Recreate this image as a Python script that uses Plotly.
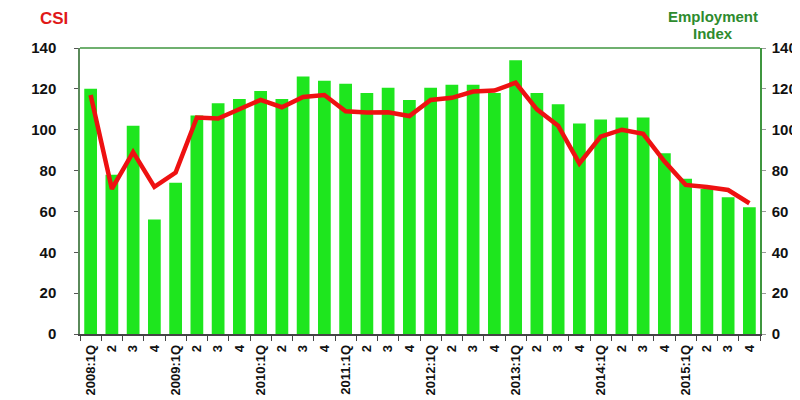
import plotly.graph_objects as go

years = ["2008", "2009", "2010", "2011", "2012", "2013", "2014", "2015"]
quarter_labels = []
for y in years:
    quarter_labels += [y + ":1Q", "2", "3", "4"]
categories = [f"{y}Q{q}" for y in years for q in range(1, 5)]

employment_index = [120, 78, 102, 56, 74, 107, 113, 115,
                    119, 115, 126, 124, 122.5, 118, 120.5, 114.5,
                    120.5, 122, 122, 118, 134, 118, 112.5, 103,
                    105, 106, 106, 88.5, 76, 71, 67, 62]
csi = [117, 71, 89, 72, 79, 106, 105.5, 110,
       114.6, 111, 116, 117, 109, 108.4, 108.5, 106.7,
       114.6, 115.6, 118.7, 119.2, 123, 110, 102, 83.5,
       96.6, 100, 98, 84.5, 73, 72, 70.5, 64]

bar_color = "#1ee61e"
line_color = "#ee1111"
frame_green = "#3f963f"
tickfont = dict(family="Liberation Sans, Arial", size=15, color="#111", weight="bold")
title_green = dict(family="Liberation Sans, Arial", size=15, color="#2e8b2e", weight="bold")

fig = go.Figure()
fig.add_trace(go.Bar(x=categories, y=employment_index, marker_color=bar_color,
                     marker_line_width=0, yaxis="y2", name="Employment Index"))
fig.add_trace(go.Scatter(x=categories, y=csi, mode="lines",
                         line=dict(color=line_color, width=4.5), yaxis="y", name="CSI"))

fig.update_layout(
    width=800, height=400,
    margin=dict(l=72, r=48, t=40, b=74),
    plot_bgcolor="white", paper_bgcolor="white",
    showlegend=False, bargap=0.4,
    xaxis=dict(type="category", tickmode="array", tickvals=categories, ticktext=quarter_labels,
               tickangle=-90, tickfont=dict(family="Liberation Sans, Arial", size=13, color="#111", weight="bold"),
               showline=True, linecolor="#444", linewidth=1.5, ticks="outside", ticklen=5,
               tickcolor="#444", tickson="boundaries", showgrid=False, zeroline=False,
               ticklabelstandoff=4),
    yaxis=dict(range=[0, 140], dtick=20, tickfont=tickfont, showline=True, linecolor="#5a8a5a",
               linewidth=1.5, ticks="outside", ticklen=4, tickcolor="#555", showgrid=False,
               zeroline=False, overlaying="y2", ticklabelstandoff=15),
    yaxis2=dict(range=[0, 140], dtick=20, tickfont=tickfont, side="right", showline=True,
                linecolor=frame_green, linewidth=1.5, ticks="outside", ticklen=4, tickcolor="#999",
                showgrid=False, zeroline=False, ticklabelstandoff=3),
    shapes=[dict(type="line", xref="paper", yref="paper", x0=0, x1=1, y0=1, y1=1,
                 line=dict(color=frame_green, width=1.5))],
    annotations=[
        dict(text="CSI", xref="paper", yref="paper", x=-0.038, y=1.062, xanchor="center",
             yanchor="bottom", showarrow=False,
             font=dict(family="Liberation Sans, Arial", size=17, color="#e01818", weight="bold")),
        dict(text="Employment", xref="paper", yref="paper", x=0.931, y=1.1084,
             xanchor="center", yanchor="middle", showarrow=False, font=title_green),
        dict(text="Index", xref="paper", yref="paper", x=0.931, y=1.049,
             xanchor="center", yanchor="middle", showarrow=False, font=title_green),
    ],
)

fig.write_html("out.html")
